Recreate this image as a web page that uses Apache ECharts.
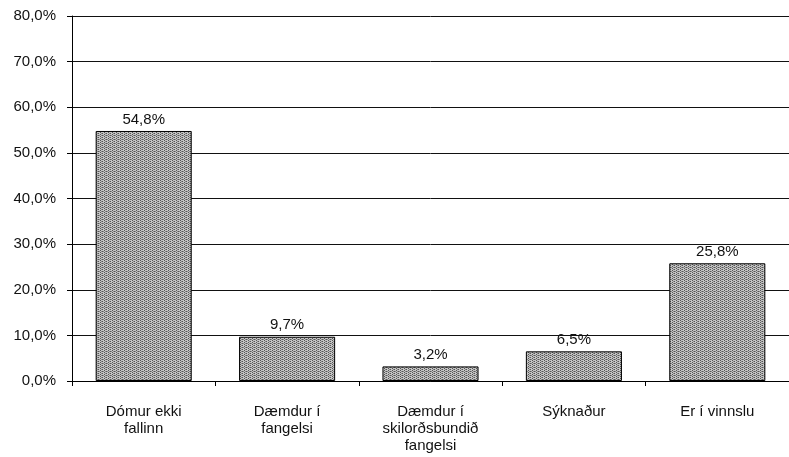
<!DOCTYPE html>
<html><head><meta charset="utf-8">
<script src="https://cdn.jsdelivr.net/npm/echarts@6/dist/echarts.min.js"></script>
<style>html,body{margin:0;padding:0;background:#fff}#c{width:789px;height:457px}</style>
</head><body><div id="c"></div>
<script>
const categories = ["Dómur ekki\nfallinn", "Dæmdur í\nfangelsi", "Dæmdur í\nskilorðsbundið\nfangelsi", "Sýknaður", "Er í vinnslu"];
const values = [54.8, 9.7, 3.2, 6.5, 25.8];
const yTicks = [0, 10, 20, 30, 40, 50, 60, 70, 80];

function fmt(v){ return v.toFixed(1).replace('.', ',') + '%'; }

// dotted texture
const pc = document.createElement('canvas');
pc.width = 4; pc.height = 4;
const g = pc.getContext('2d');
g.fillStyle = '#c4c4c4'; g.fillRect(0,0,4,4);
g.fillStyle = '#555';
g.fillRect(0,0,1,1); g.fillRect(2,1,1,1); g.fillRect(0,2,1,1); g.fillRect(2,3,1,1);
g.fillStyle = '#8a8a8a';
g.fillRect(1,1,1,1); g.fillRect(3,3,1,1); g.fillRect(1,3,1,1);

const chart = echarts.init(document.getElementById('c'));
chart.setOption({
  animation: false,
  textStyle: { fontFamily: 'Liberation Sans, Arial, sans-serif' },
  grid: { left: 72, right: -3, top: 16, bottom: 76 },
  xAxis: {
    type: 'category', data: categories,
    axisLine: { lineStyle: { color: '#000', width: 1 } },
    axisTick: { show: true, length: 5, lineStyle: { color: '#000' } },
    axisLabel: { color: '#111', fontSize: 15, lineHeight: 17, margin: 22, interval: 0 }
  },
  yAxis: {
    type: 'value', min: yTicks[0], max: yTicks[yTicks.length-1], interval: 10,
    axisLine: { show: true, lineStyle: { color: '#000', width: 1 } },
    axisTick: { show: true, length: 5, lineStyle: { color: '#000' } },
    splitLine: { lineStyle: { color: '#111', width: 1 } },
    axisLabel: { color: '#111', fontSize: 15, margin: 16, formatter: v => fmt(v) }
  },
  series: [{
    type: 'bar', data: values, barCategoryGap: '33%',
    itemStyle: { color: { image: pc, repeat: 'repeat' }, borderColor: '#000', borderWidth: 1 },
    label: { show: true, position: 'top', distance: 4, color: '#111', fontSize: 15, formatter: p => fmt(p.value) }
  }]
});
</script></body></html>
